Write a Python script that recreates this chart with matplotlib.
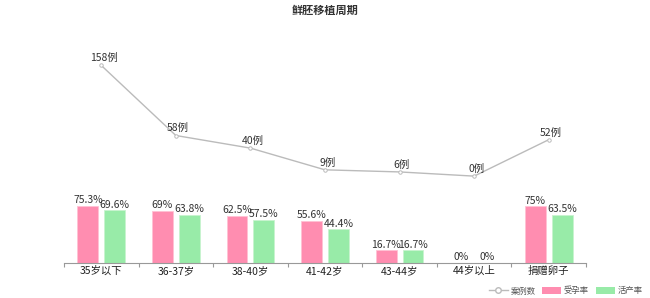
import matplotlib.pyplot as plt
from matplotlib.lines import Line2D
from matplotlib.patches import Patch
import numpy as np

plt.rcParams['font.family'] = ['Noto Sans CJK SC', 'DejaVu Sans']

categories = ['35岁以下', '36-37岁', '38-40岁', '41-42岁', '43-44岁', '44岁以上', '捐赠卵子']
cases = [158, 58, 40, 9, 6, 0, 52]
pregnancy_rate = [75.3, 69, 62.5, 55.6, 16.7, 0, 75]
live_birth_rate = [69.6, 63.8, 57.5, 44.4, 16.7, 0, 63.5]
rate_labels_p = ['75.3%', '69%', '62.5%', '55.6%', '16.7%', '0%', '75%']
rate_labels_l = ['69.6%', '63.8%', '57.5%', '44.4%', '16.7%', '0%', '63.5%']

pink = '#FF8DB0'
green = '#98EBA8'
line_c = '#bbbbbb'
txt = '#333333'

fig = plt.figure(figsize=(6.5, 2.98), dpi=100)
ax = fig.add_axes([64 / 650, 35 / 298, 522 / 650, 233 / 298])
x = np.arange(len(categories))
w = 0.28
off = 0.18

ax.bar(x - off, pregnancy_rate, w, color=pink, edgecolor='#ffc2d4', linewidth=0.6)
ax.bar(x + off, live_birth_rate, w, color=green, edgecolor='#c8f3cf', linewidth=0.6)
for i in range(len(x)):
    ax.text(x[i] - off, pregnancy_rate[i] + 0.8, rate_labels_p[i], ha='center', va='bottom',
            fontsize=7.5, color=txt)
    ax.text(x[i] + off, live_birth_rate[i] + 0.8, rate_labels_l[i], ha='center', va='bottom',
            fontsize=7.5, color=txt)

ax.set_xlim(-0.5, len(x) - 0.5)
ax.set_ylim(0, 308)
ax.set_xticks(np.arange(-0.5, len(x), 1))
ax.set_xticklabels([])
ax.set_xticks(x, minor=True)
ax.set_xticklabels(categories, minor=True, fontsize=7.5, color='#222222')
ax.tick_params(axis='x', which='major', length=3, color='#999999')
ax.tick_params(axis='x', which='minor', length=0, pad=2)
ax.set_yticks([])
for s in ['top', 'right', 'left']:
    ax.spines[s].set_visible(False)
ax.spines['bottom'].set_color('#999999')

ax2 = ax.twinx()
ax2.plot(x, cases, color=line_c, linewidth=1.0, marker='o', markersize=2.5,
         markerfacecolor='white', markeredgecolor=line_c, markeredgewidth=0.7)
for i in range(len(x)):
    ax2.text(x[i] + 0.03, cases[i] + 3, f'{cases[i]}例', ha='center', va='bottom',
             fontsize=7.5, color=txt)
ax2.set_ylim(-124, 208.6)
ax2.set_yticks([])
for s in ['top', 'right', 'left', 'bottom']:
    ax2.spines[s].set_visible(False)

fig.text(325 / 650, 1 - 10 / 298, '鲜胚移植周期', ha='center', va='center',
         fontsize=8, fontweight='bold', color=txt)

handles = [
    Line2D([0], [0], color=line_c, marker='o', markersize=4, markerfacecolor='white',
           markeredgecolor=line_c, linewidth=1),
    Patch(facecolor=pink, edgecolor='none'),
    Patch(facecolor=green, edgecolor='none'),
]
fig.legend(handles, ['案例数', '受孕率', '活产率'], loc='center right',
           bbox_to_anchor=(650 / 650, 1 - 291 / 298), ncol=3, frameon=False,
           fontsize=6, handlelength=2.3, handleheight=0.8, columnspacing=0.8,
           handletextpad=0.3, labelcolor='#555555')

fig.savefig('out.png', dpi=100)
